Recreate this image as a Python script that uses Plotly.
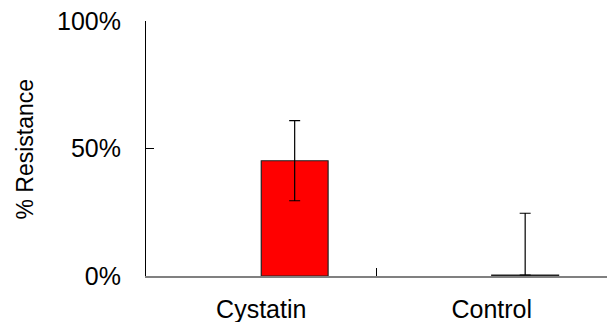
import plotly.graph_objects as go

categories = ["Cystatin", "Control"]
resistance = [45.2, 0.4]
err_plus = [15.7, 24.2]
err_minus = [15.7, 0.0]
tick_vals = [0, 50, 100]
tick_text = ["0%", "50%", "100%"]
y_title = "% Resistance"

fig = go.Figure()
fig.add_trace(go.Bar(
    x=categories, y=resistance,
    offset=0, width=0.29,
    marker=dict(color="#FF0000", line=dict(color="#222222", width=1.2)),
    error_y=dict(type="data", symmetric=False, array=err_plus, arrayminus=err_minus,
                 color="#000000", thickness=1.2, width=5.5),
    showlegend=False,
))

font = dict(family="Liberation Sans, Arial, sans-serif", color="#000000")
fig.update_layout(
    width=607, height=322,
    margin=dict(l=146, r=0, t=21, b=46),
    paper_bgcolor="white", plot_bgcolor="white",
    font=dict(**font, size=25),
    xaxis=dict(
        type="category", range=[-0.5, 1.5], tickson="boundaries",
        showline=True, linecolor="#808080", linewidth=1.5,
        ticks="inside", ticklen=8, tickcolor="#000000", tickwidth=1,
        ticklabelstandoff=10, tickfont=dict(**font, size=25),
        showgrid=False, zeroline=False, automargin=False,
    ),
    yaxis=dict(
        range=[0, 100], tickvals=tick_vals, ticktext=tick_text,
        showline=True, linecolor="#000000", linewidth=1,
        ticks="inside", ticklen=8, tickcolor="#000000", tickwidth=1,
        ticklabelstandoff=19, tickfont=dict(**font, size=25),
        showgrid=False, zeroline=False, automargin=False,
    ),
    annotations=[dict(
        text=y_title, textangle=-90, showarrow=False,
        xref="paper", yref="paper", x=-0.2625, y=0.5,
        xanchor="center", yanchor="middle",
        font=dict(**font, size=23),
    )],
)
fig.write_html("out.html")
